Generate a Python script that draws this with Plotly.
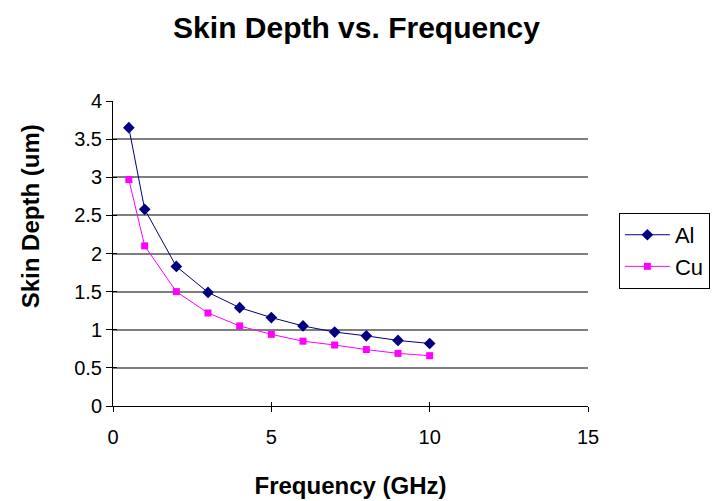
import plotly.graph_objects as go

# Skin depth (um) versus frequency (GHz) for aluminium and copper
freq_ghz = [0.5, 1, 2, 3, 4, 5, 6, 7, 8, 9, 10]
al_depth = [3.65, 2.58, 1.83, 1.49, 1.29, 1.16, 1.05, 0.97, 0.92, 0.86, 0.82]
cu_depth = [2.97, 2.10, 1.50, 1.22, 1.05, 0.94, 0.85, 0.80, 0.74, 0.69, 0.66]

x_ticks = [0, 5, 10, 15]
y_ticks = [0, 0.5, 1, 1.5, 2, 2.5, 3, 3.5, 4]

font_family = "Liberation Sans, Arial, sans-serif"

fig = go.Figure()
fig.add_trace(go.Scatter(
    x=freq_ghz, y=al_depth, name="Al", mode="lines+markers",
    line=dict(color="#000080", width=1),
    marker=dict(symbol="diamond", size=9, color="#000080"),
))
fig.add_trace(go.Scatter(
    x=freq_ghz, y=cu_depth, name="Cu", mode="lines+markers",
    line=dict(color="#FF00FF", width=1),
    marker=dict(symbol="square", size=7, color="#FF00FF"),
))
# invisible trace on the overlay axes so their inner tick marks are drawn
fig.add_trace(go.Scatter(
    x=[None], y=[None], xaxis="x2", yaxis="y2", showlegend=False,
    hoverinfo="skip",
))

fig.update_layout(
    width=713, height=501,
    margin=dict(l=113, r=125, t=101, b=95, autoexpand=False),
    paper_bgcolor="white", plot_bgcolor="white",
    font=dict(family=font_family, color="black", size=20),
    title=dict(text="<b>Skin Depth vs. Frequency</b>", x=0.5, xref="container",
               y=0.945, yref="container", xanchor="center", yanchor="middle",
               font=dict(size=30)),
    xaxis=dict(
        range=[0, 15], tickvals=x_ticks, showgrid=False, zeroline=False,
        showline=True, linecolor="black", linewidth=1, automargin=False,
        ticks="outside", ticklen=5, tickcolor="black", ticklabelstandoff=8,
        title=dict(text="<b>Frequency (GHz)</b>", font=dict(size=24), standoff=30),
    ),
    yaxis=dict(
        range=[0, 4], tickvals=y_ticks,
        ticktext=[f"{v:g}" for v in y_ticks],
        showgrid=True, gridcolor="#7f7f7f", gridwidth=2, zeroline=False,
        showline=True, linecolor="black", linewidth=1, automargin=False,
        ticks="outside", ticklen=6, tickcolor="black",
    ),
    xaxis2=dict(
        range=[0, 15], tickvals=x_ticks, overlaying="x", anchor="y",
        showgrid=False, zeroline=False, showline=False, showticklabels=False,
        ticks="inside", ticklen=4, tickcolor="black",
    ),
    yaxis2=dict(
        range=[0, 4], tickvals=y_ticks, overlaying="y", anchor="x",
        showgrid=False, zeroline=False, showline=False, showticklabels=False,
        ticks="inside", ticklen=4, tickcolor="black",
    ),
    annotations=[dict(
        text="<b>Skin Depth (um)</b>", textangle=-90, showarrow=False,
        xref="paper", yref="paper", x=-0.172, y=0.623,
        xanchor="center", yanchor="middle", font=dict(size=24),
    )],
    legend=dict(
        x=1.065, y=0.633, xanchor="left", yanchor="top",
        bordercolor="black", borderwidth=1, bgcolor="white",
        font=dict(size=22), tracegroupgap=0, itemwidth=45,
    ),
    showlegend=True,
)

fig.write_html("out.html")
